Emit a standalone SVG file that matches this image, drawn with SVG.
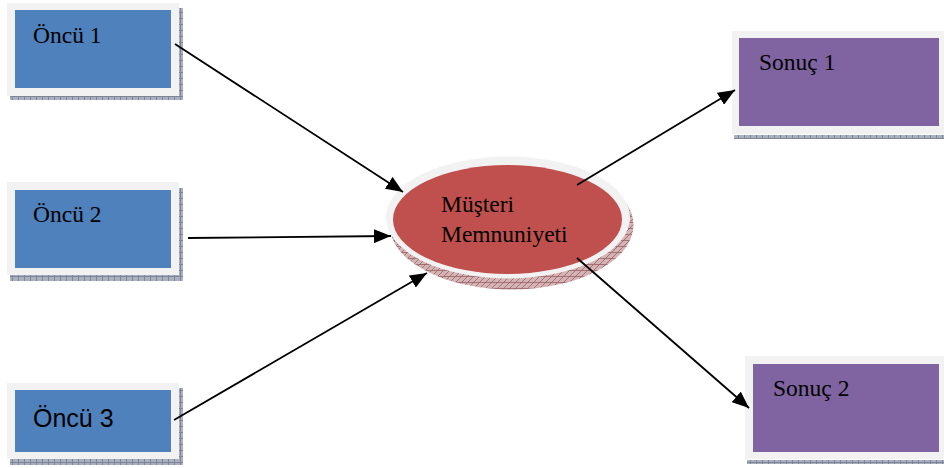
<svg xmlns="http://www.w3.org/2000/svg" width="944" height="468" viewBox="0 0 944 468">
  <defs>
    <style>
      .frame { fill: #f2f2f2; }
      .blue { fill: #4f81bd; }
      .purple { fill: #8064a2; }
      .shadow { fill: url(#gridShadow); }
      .serif { font-family: "Liberation Serif", "Times New Roman", serif; font-size: 23.5px; fill: #000; }
      .sans { font-family: "Liberation Sans", Arial, sans-serif; font-size: 25px; fill: #000; }
      .conn { stroke: #000; stroke-width: 1.8; fill: none; marker-end: url(#arrow); }
    </style>
    <!-- hatched drop shadow behind the boxes -->
    <pattern id="gridShadow" width="6" height="6" patternUnits="userSpaceOnUse">
      <rect width="6" height="6" fill="#aab0c0"/>
      <path d="M0 0.5H6M0.5 0V6" stroke="#7d8699" stroke-width="1"/>
    </pattern>
    <!-- hatched drop shadow behind the ellipse -->
    <pattern id="redShadow" width="6" height="6" patternUnits="userSpaceOnUse">
      <rect width="6" height="6" fill="#d4b3b5"/>
      <path d="M0 6L6 0M0 0.5H6" stroke="#9a6164" stroke-width="0.8"/>
    </pattern>
    <marker id="arrow" markerUnits="userSpaceOnUse" markerWidth="18" markerHeight="14" refX="17" refY="7" orient="auto">
      <path d="M0 0L17 7L0 14Z" fill="#000"/>
    </marker>
  </defs>

  <g id="oncu1">
    <rect class="shadow" x="10" y="8" width="173" height="92"/>
    <rect class="frame" x="7" y="3" width="172" height="93"/>
    <rect class="blue" x="15" y="10" width="156" height="78"/>
    <text class="serif" x="33" y="43">Öncü 1</text>
  </g>

  <g id="oncu2">
    <rect class="shadow" x="10" y="188" width="173" height="93"/>
    <rect class="frame" x="7" y="182" width="172" height="93"/>
    <rect class="blue" x="15" y="190" width="156" height="78"/>
    <text class="serif" x="33" y="222">Öncü 2</text>
  </g>

  <g id="oncu3">
    <rect class="shadow" x="10" y="388" width="173" height="77"/>
    <rect class="frame" x="7" y="383" width="172" height="76"/>
    <rect class="blue" x="15" y="390" width="156" height="62"/>
    <text class="sans" x="33" y="427">Öncü 3</text>
  </g>

  <g id="musteri-memnuniyeti">
    <ellipse cx="511.5" cy="225" rx="122" ry="64.5" fill="url(#redShadow)"/>
    <ellipse cx="508" cy="217.5" rx="122" ry="61" fill="#f2f2f2"/>
    <ellipse cx="507.5" cy="219.5" rx="114.5" ry="54.5" fill="#c0504d"/>
    <text class="serif" x="441" y="212">Müşteri</text>
    <text class="serif" x="441" y="242">Memnuniyeti</text>
  </g>

  <g id="sonuc1">
    <rect class="shadow" x="734" y="135" width="214" height="4"/>
    <rect class="frame" x="732" y="31" width="216" height="103"/>
    <rect class="purple" x="739" y="38" width="200" height="88"/>
    <text class="serif" x="759" y="70">Sonuç 1</text>
  </g>

  <g id="sonuc2">
    <rect class="shadow" x="747" y="460" width="201" height="4"/>
    <rect class="frame" x="745" y="356" width="203" height="103"/>
    <rect class="purple" x="753" y="364" width="186" height="88"/>
    <text class="serif" x="773" y="396">Sonuç 2</text>
  </g>

  <g id="connectors">
    <line class="conn" x1="175" y1="44" x2="403" y2="192"/>
    <line class="conn" x1="188" y1="238" x2="391" y2="236"/>
    <line class="conn" x1="174" y1="420" x2="427" y2="273"/>
    <line class="conn" x1="577" y1="185" x2="735" y2="90"/>
    <line class="conn" x1="577" y1="258" x2="749" y2="408"/>
  </g>
</svg>
